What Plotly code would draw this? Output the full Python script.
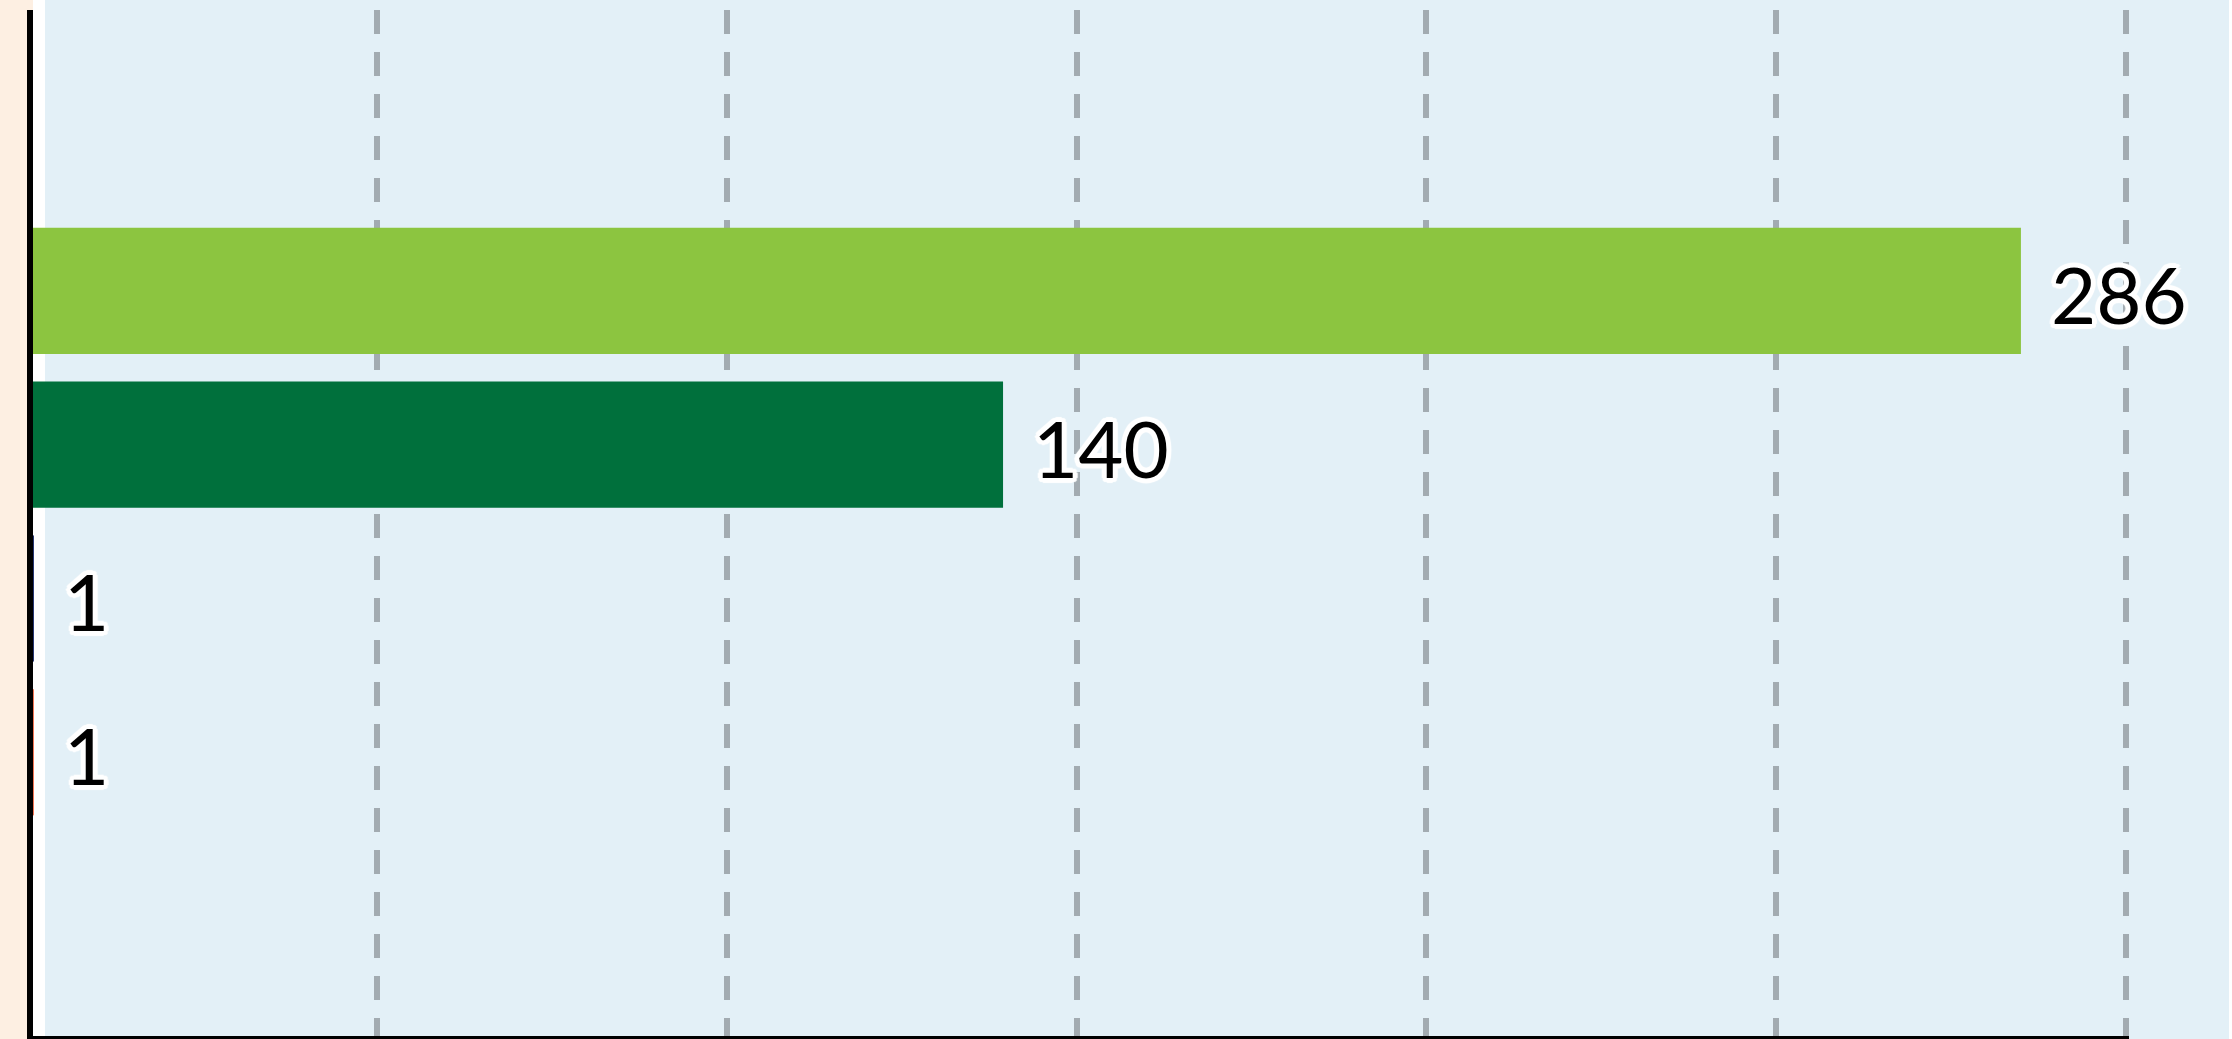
import plotly.graph_objects as go

# ---- data ----
categories = ["A", "B", "C", "D"]
values = [286, 140, 1, 1]
bar_colors = ["#8CC540", "#00703C", "#22306E", "#F2714F"]
label_texts = ["286", "140", "1", "1"]

W, H = 2232, 1039
L, R, T, B = 27, 103, 10, 0
plot_w = W - L - R
plot_h = H - T - B
X_MAX = 301.5
GRID_STEP = 50.18
grid_vals = [GRID_STEP * i for i in range(1, 7)]

def px_x(p):
    return (p - L) / plot_w

def px_y(p):
    return 1 - (p - T) / plot_h

fig = go.Figure()
fig.add_trace(go.Bar(
    x=values, y=categories, orientation="h",
    marker=dict(color=bar_colors, line=dict(width=0)),
    hoverinfo="skip", showlegend=False,
))

outline = ", ".join(
    f"white {dx}px {dy}px 1px" for dx, dy in
    [(5, 0), (-5, 0), (0, 5), (0, -5), (4, 3), (-4, 3), (4, -3), (-4, -3),
     (3, 4), (-3, 4), (3, -4), (-3, -4), (2, 2), (-2, 2), (2, -2), (-2, -2)]
)

for cat, v, t in zip(categories, values, label_texts):
    fig.add_annotation(
        x=v, y=cat, text=t, showarrow=False,
        xanchor="left", yanchor="middle", xshift=28, yshift=-3,
        font=dict(family="Lato", size=78, color="black", shadow=outline),
    )

shapes = [
    # background panels
    dict(type="rect", xref="paper", yref="paper",
         x0=px_x(33), x1=px_x(45), y0=px_y(H + 5), y1=px_y(-5),
         fillcolor="#FFFFFF", line=dict(width=0), layer="below"),
    dict(type="rect", xref="paper", yref="paper",
         x0=px_x(45), x1=px_x(2229), y0=px_y(H + 5), y1=px_y(-5),
         fillcolor="#E3F0F7", line=dict(width=0), layer="below"),
    dict(type="rect", xref="paper", yref="paper",
         x0=px_x(2229), x1=px_x(W + 5), y0=px_y(H + 5), y1=px_y(-5),
         fillcolor="#FFFFFF", line=dict(width=0), layer="below"),
    # axis lines
    dict(type="line", xref="paper", yref="paper",
         x0=px_x(30), x1=px_x(30), y0=px_y(H + 5), y1=px_y(T),
         line=dict(color="black", width=6), layer="above"),
    dict(type="line", xref="paper", yref="paper",
         x0=px_x(33), x1=1, y0=px_y(H), y1=px_y(H),
         line=dict(color="black", width=6), layer="above"),
]

fig.update_layout(
    width=W, height=H,
    margin=dict(l=L, r=R, t=T, b=B, pad=0),
    paper_bgcolor="#FDEFE2",
    plot_bgcolor="rgba(0,0,0,0)",
    bargap=0.18,
    shapes=shapes,
    showlegend=False,
    xaxis=dict(
        range=[0, X_MAX], showline=False,
        showticklabels=False, ticks="", zeroline=False,
        showgrid=True, gridcolor="#A2ABB1", gridwidth=6, griddash="24px,18px",
        tickmode="array", tickvals=grid_vals, fixedrange=True,
    ),
    yaxis=dict(
        type="category", categoryorder="array", categoryarray=categories,
        range=[4.864, -1.826], showline=False,
        showticklabels=False, ticks="", showgrid=False, zeroline=False,
        fixedrange=True,
    ),
)

fig.write_html(
    "out.html",
    config={"displayModeBar": False},
    post_script="document.body.style.margin='0';document.body.style.overflow='hidden';",
)
